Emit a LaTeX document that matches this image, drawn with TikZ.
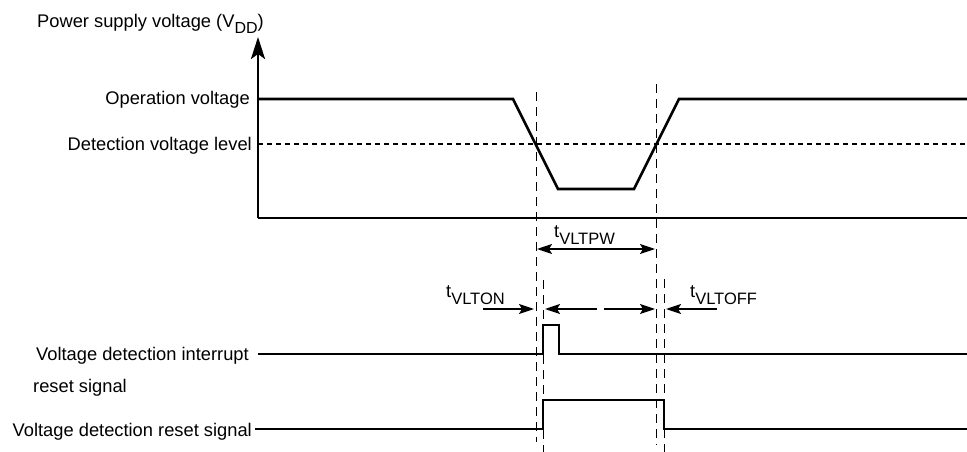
\documentclass[tikz,border=0pt]{standalone}
\usepackage{fontspec}
\setmainfont{Liberation Sans}
\usetikzlibrary{arrows.meta}
\newcommand{\mainsz}{\fontsize{18.3}{22}\selectfont}
\newcommand{\subsz}{\fontsize{16.5}{19}\selectfont}
\newcommand{\tsub}[1]{t\raisebox{-7pt}{\subsz #1}}
\begin{document}
\begin{tikzpicture}[x=1pt,y=-1pt,
  sig/.style={line width=2.6pt, line join=miter},
  guide/.style={line width=1pt, dash pattern=on 9pt off 6pt},
  lvl/.style={line width=2pt, dash pattern=on 4.5pt off 4.5pt},
  tip/.style={},
  dim/.style={line width=1.5pt, -{Stealth[length=15pt,width=10pt,inset=3pt]}},
  dimboth/.style={line width=1.5pt, {Stealth[length=15pt,width=10pt,inset=3pt]}-{Stealth[length=15pt,width=10pt,inset=3pt]}},
  lbl/.style={font=\mainsz, inner sep=0pt}]
\useasboundingbox (0,0) rectangle (967,452);

% labels
\node[lbl, anchor=base west] (title) at (37,28) {Power supply voltage (V\raisebox{-6pt}{\fontsize{16}{19}\selectfont DD})};
\node[lbl, anchor=base east] (op) at (250,104) {Operation voltage};
\node[lbl, anchor=base east] (det) at (252,150) {Detection voltage level};
\node[lbl, anchor=base east] (intr) at (249,360) {Voltage detection interrupt};
\node[lbl, anchor=base west] (intr2) at (33,392) {reset signal};
\node[lbl, anchor=base east] (rst) at (252,436) {Voltage detection reset signal};
\node[lbl, anchor=base west] (tpw) at (554,237) {\tsub{VLTPW}};
\node[lbl, anchor=base west] (ton) at (446,297) {\tsub{VLTON}};
\node[lbl, anchor=base west] (toff) at (690,297) {\tsub{VLTOFF}};

% axes
\coordinate (o) at (258,218);
\coordinate (ytop) at (258,37);
\coordinate (xend) at (967,218);
\draw[sig, -{Stealth[length=22pt,width=14pt,inset=5pt]}] (o) -- (ytop);
\draw[sig] (o) -- (xend);

% detection level
\coordinate (lvA) at (258,144);
\coordinate (lvB) at (967,144);
\draw[lvl] (lvA) -- (lvB);

% VDD waveform
\draw[sig] (258,99) -- (513,99) -- (558,189) -- (634,189) -- (679,99) -- (967,99);

% guide lines
\coordinate (g1t) at (536,92);  \coordinate (g1b) at (536,442);
\coordinate (g2t) at (656,84);  \coordinate (g2b) at (656,445);
\coordinate (g3t) at (543,280); \coordinate (g3b) at (543,452);
\coordinate (g4t) at (664,279); \coordinate (g4b) at (664,452);
\draw[guide] (g1t) -- (g1b);
\draw[guide] (g2t) -- (g2b);
\draw[guide] (g3t) -- (g3b);
\draw[guide] (g4t) -- (g4b);

% interrupt signal
\draw[sig] (258,354) -- (543,354) -- (543,325) -- (559,325) -- (559,354) -- (967,354);
% reset signal
\draw[sig] (255,429) -- (543,429) -- (543,400) -- (664,400) -- (664,429) -- (967,429);

% dimension arrows
\coordinate (pwA) at (537,249); \coordinate (pwB) at (655,249);
\draw[dimboth] (pwA) -- (pwB);
\coordinate (onA) at (483,309); \coordinate (onB) at (534,309);
\draw[dim] (onA) -- (onB);
\coordinate (mlA) at (597,309); \coordinate (mlB) at (545,309);
\draw[dim] (mlA) -- (mlB);
\coordinate (mrA) at (604,309); \coordinate (mrB) at (655,309);
\draw[dim] (mrA) -- (mrB);
\coordinate (offA) at (717,309); \coordinate (offB) at (666,309);
\draw[dim] (offA) -- (offB);
\end{tikzpicture}
\end{document}
